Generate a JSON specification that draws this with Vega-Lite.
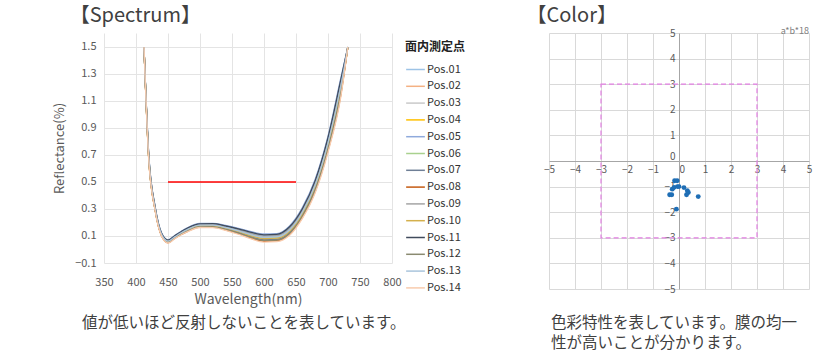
{
  "$schema": "https://vega.github.io/schema/vega-lite/v6.json",
  "padding": {"left": 53, "top": 6, "right": 0, "bottom": 0},
  "background": "white",
  "config": {"font": "Noto Sans CJK JP", "view": {"stroke": null}},
  "spacing": 102,
  "hconcat": [
    {
      "spacing": 8,
      "vconcat": [
        {
          "width": 288,
          "height": 230,
          "title": {"text": "【Spectrum】", "anchor": "start", "fontSize": 20, "fontWeight": "normal", "color": "#404040", "dx": 16, "offset": 7},
          "data": {"values": [
            {"w":412.5,"p01":1.5,"p02":1.5,"p03":1.5,"p04":1.5,"p05":1.5,"p06":1.5,"p07":1.5,"p08":1.5,"p09":1.5,"p10":1.5,"p11":1.5,"p12":1.5,"p13":1.5,"p14":1.5},
            {"w":420,"p01":0.692,"p02":0.674,"p03":0.686,"p04":0.668,"p05":0.70,"p06":0.68,"p07":0.671,"p08":0.664,"p09":0.689,"p10":0.677,"p11":0.696,"p12":0.668,"p13":0.683,"p14":0.66},
            {"w":430,"p01":0.309,"p02":0.296,"p03":0.305,"p04":0.291,"p05":0.315,"p06":0.30,"p07":0.293,"p08":0.288,"p09":0.307,"p10":0.298,"p11":0.312,"p12":0.291,"p13":0.302,"p14":0.285},
            {"w":440,"p01":0.117,"p02":0.106,"p03":0.114,"p04":0.103,"p05":0.122,"p06":0.11,"p07":0.105,"p08":0.10,"p09":0.115,"p10":0.108,"p11":0.12,"p12":0.103,"p13":0.112,"p14":0.098},
            {"w":450,"p01":0.067,"p02":0.056,"p03":0.064,"p04":0.053,"p05":0.072,"p06":0.06,"p07":0.055,"p08":0.05,"p09":0.065,"p10":0.058,"p11":0.07,"p12":0.053,"p13":0.062,"p14":0.048},
            {"w":460,"p01":0.097,"p02":0.086,"p03":0.094,"p04":0.083,"p05":0.102,"p06":0.09,"p07":0.085,"p08":0.08,"p09":0.095,"p10":0.088,"p11":0.10,"p12":0.083,"p13":0.092,"p14":0.078},
            {"w":470,"p01":0.128,"p02":0.116,"p03":0.124,"p04":0.112,"p05":0.133,"p06":0.12,"p07":0.114,"p08":0.11,"p09":0.126,"p10":0.118,"p11":0.13,"p12":0.112,"p13":0.122,"p14":0.107},
            {"w":480,"p01":0.154,"p02":0.141,"p03":0.15,"p04":0.136,"p05":0.16,"p06":0.145,"p07":0.138,"p08":0.133,"p09":0.152,"p10":0.143,"p11":0.157,"p12":0.136,"p13":0.147,"p14":0.13},
            {"w":500,"p01":0.187,"p02":0.174,"p03":0.183,"p04":0.169,"p05":0.193,"p06":0.178,"p07":0.171,"p08":0.166,"p09":0.185,"p10":0.176,"p11":0.19,"p12":0.169,"p13":0.18,"p14":0.163},
            {"w":520,"p01":0.188,"p02":0.173,"p03":0.183,"p04":0.168,"p05":0.194,"p06":0.178,"p07":0.171,"p08":0.165,"p09":0.185,"p10":0.176,"p11":0.191,"p12":0.168,"p13":0.18,"p14":0.162},
            {"w":540,"p01":0.171,"p02":0.155,"p03":0.165,"p04":0.149,"p05":0.178,"p06":0.16,"p07":0.152,"p08":0.146,"p09":0.168,"p10":0.157,"p11":0.174,"p12":0.149,"p13":0.163,"p14":0.142},
            {"w":560,"p01":0.148,"p02":0.128,"p03":0.142,"p04":0.122,"p05":0.157,"p06":0.135,"p07":0.125,"p08":0.117,"p09":0.145,"p10":0.132,"p11":0.153,"p12":0.122,"p13":0.138,"p14":0.113},
            {"w":580,"p01":0.121,"p02":0.097,"p03":0.113,"p04":0.089,"p05":0.132,"p06":0.105,"p07":0.093,"p08":0.083,"p09":0.117,"p10":0.101,"p11":0.127,"p12":0.089,"p13":0.109,"p14":0.078},
            {"w":600,"p01":0.103,"p02":0.076,"p03":0.094,"p04":0.067,"p05":0.115,"p06":0.085,"p07":0.072,"p08":0.061,"p09":0.099,"p10":0.081,"p11":0.109,"p12":0.067,"p13":0.09,"p14":0.055},
            {"w":620,"p01":0.106,"p02":0.079,"p03":0.097,"p04":0.07,"p05":0.118,"p06":0.088,"p07":0.075,"p08":0.064,"p09":0.102,"p10":0.084,"p11":0.112,"p12":0.07,"p13":0.093,"p14":0.058},
            {"w":640,"p01":0.161,"p02":0.13,"p03":0.151,"p04":0.119,"p05":0.175,"p06":0.14,"p07":0.124,"p08":0.112,"p09":0.156,"p10":0.135,"p11":0.168,"p12":0.119,"p13":0.145,"p14":0.105},
            {"w":660,"p01":0.294,"p02":0.258,"p03":0.282,"p04":0.246,"p05":0.31,"p06":0.27,"p07":0.252,"p08":0.238,"p09":0.288,"p10":0.264,"p11":0.302,"p12":0.246,"p13":0.276,"p14":0.23},
            {"w":680,"p01":0.50,"p02":0.455,"p03":0.485,"p04":0.44,"p05":0.52,"p06":0.47,"p07":0.448,"p08":0.43,"p09":0.493,"p10":0.463,"p11":0.51,"p12":0.44,"p13":0.478,"p14":0.42},
            {"w":700,"p01":0.816,"p02":0.762,"p03":0.798,"p04":0.744,"p05":0.84,"p06":0.78,"p07":0.753,"p08":0.732,"p09":0.807,"p10":0.771,"p11":0.828,"p12":0.744,"p13":0.789,"p14":0.72},
            {"w":720,"p01":1.242,"p02":1.179,"p03":1.221,"p04":1.158,"p05":1.27,"p06":1.2,"p07":1.169,"p08":1.144,"p09":1.232,"p10":1.19,"p11":1.256,"p12":1.158,"p13":1.211,"p14":1.13},
            {"w":731,"p01":1.5,"p02":1.5,"p03":1.5,"p04":1.5,"p05":1.5,"p06":1.5,"p07":1.5,"p08":1.5,"p09":1.5,"p10":1.5,"p11":1.5,"p12":1.5,"p13":1.5,"p14":1.5}
          ]},
          "layer": [
            {
              "transform": [{"fold": ["p01","p02","p03","p04","p05","p06","p07","p08","p09","p10","p11","p12","p13","p14"], "as": ["series", "value"]}],
              "mark": {"type": "line", "interpolate": "monotone", "strokeWidth": 1.3},
              "encoding": {
                "x": {"field": "w", "type": "quantitative", "scale": {"domain": [350, 800], "nice": false},
                  "axis": {"values": [350,400,450,500,550,600,650,700,750,800], "tickCount": 30, "labelOverlap": false, "labelFlush": false, "title": "Wavelength(nm)", "titleFontSize": 14, "titleFontWeight": "normal", "titleColor": "#595959", "labelColor": "#595959", "labelFontSize": 11, "grid": true, "gridColor": "#E4E4E4", "domain": false, "ticks": false, "labelPadding": 13, "titlePadding": 5}},
                "y": {"field": "value", "type": "quantitative", "scale": {"domain": [-0.1, 1.6037], "nice": false, "zero": false},
                  "axis": {"values": [-0.1,0.1,0.3,0.5,0.7,0.9,1.1,1.3,1.5], "tickCount": 30, "labelOverlap": false, "labelFlush": false, "format": ".1f", "title": "Reflectance(%)", "titleFontSize": 13, "titleFontWeight": "normal", "titleColor": "#595959", "labelColor": "#595959", "labelFontSize": 11, "grid": true, "gridColor": "#E4E4E4", "domain": false, "ticks": false, "labelPadding": 8, "titlePadding": 8}},
                "color": {"field": "series", "type": "nominal",
                  "scale": {"domain": ["p01","p02","p03","p04","p05","p06","p07","p08","p09","p10","p11","p12","p13","p14"],
                    "range": ["#9DC3E6","#F4B183","#C9C9C9","#FFC000","#8FAADC","#A9D18E","#6F7F96","#C55A11","#A5A5A5","#D4B04C","#404B5C","#8A8A70","#A9C4DC","#F8CBAD"]},
                  "legend": {"title": "面内測定点", "orient": "none", "legendX": 301, "legendY": 9, "titleFontSize": 12, "titleFontWeight": "bold", "titleColor": "#222222", "labelFontSize": 11, "labelColor": "#333333", "symbolType": "stroke", "symbolSize": 350, "symbolStrokeWidth": 1.5, "rowPadding": 0.8, "titlePadding": 5, "labelOffset": 1, "labelExpr": "'Pos.' + slice(datum.label, 1)"}}
              }
            },
            {
              "data": {"values": [{"w1": 450, "w2": 650, "r": 0.5}]},
              "mark": {"type": "rule", "color": "#FF0000", "strokeWidth": 1.5},
              "encoding": {
                "x": {"field": "w1", "type": "quantitative"},
                "x2": {"field": "w2"},
                "y": {"field": "r", "type": "quantitative"}
              }
            }
          ]
        },
        {
          "width": 320,
          "height": 18,
          "data": {"values": [{"t": "値が低いほど反射しないことを表しています。"}]},
          "mark": {"type": "text", "align": "left", "baseline": "middle", "fontSize": 15.5, "color": "#404040"},
          "encoding": {"text": {"field": "t"}, "x": {"value": -22}, "y": {"value": 9}}
        }
      ]
    },
    {
      "spacing": 22,
      "vconcat": [
        {
          "width": 260,
          "height": 256,
          "title": {"text": "【Color】", "anchor": "start", "fontSize": 20, "fontWeight": "normal", "color": "#404040", "dx": -17, "offset": 1},
          "layer": [
            {
              "data": {"values": [{"a": -3, "a2": 3, "b": -3, "b2": 3}]},
              "mark": {"type": "rect", "filled": false, "color": "#E27FE2", "strokeDash": [5, 3], "strokeWidth": 1.2},
              "encoding": {
                "x": {"field": "a", "type": "quantitative", "scale": {"domain": [-5, 5], "nice": false},
                  "axis": {"values": [-5,-4,-3,-2,-1,0,1,2,3,4,5], "format": "d", "tickCount": 30, "labelOverlap": false, "labelFlush": false, "offset": -128, "title": null, "grid": true, "gridColor": "#D9D9D9", "domainColor": "#A6A6A6", "ticks": false, "labelColor": "#595959", "labelFontSize": 10, "labelPadding": 3,
                    "labelAlign": {"condition": {"test": "datum.value == 0", "value": "left"}, "value": "center"}}},
                "x2": {"field": "a2"},
                "y": {"field": "b", "type": "quantitative", "scale": {"domain": [-5, 5], "nice": false},
                  "axis": {"values": [-5,-4,-3,-2,-1,0,1,2,3,4,5], "format": "d", "tickCount": 30, "labelOverlap": false, "labelFlush": false, "offset": -130, "title": null, "grid": true, "gridColor": "#D9D9D9", "domainColor": "#A6A6A6", "ticks": false, "labelColor": "#595959", "labelFontSize": 10, "labelPadding": 4,
                    "labelBaseline": {"condition": {"test": "datum.value == 0", "value": "bottom"}, "value": "middle"}}},
                "y2": {"field": "b2"}
              }
            },
            {
              "data": {"values": [
                {"a": -0.17, "b": -0.77}, {"a": -0.07, "b": -0.77},
                {"a": -0.26, "b": -1.10}, {"a": -0.19, "b": -1.03},
                {"a": -0.06, "b": -1.00}, {"a": 0.0, "b": -1.00},
                {"a": 0.19, "b": -1.04}, {"a": 0.32, "b": -1.16},
                {"a": 0.36, "b": -1.23}, {"a": 0.29, "b": -1.32},
                {"a": 0.74, "b": -1.39}, {"a": -0.36, "b": -1.32},
                {"a": -0.28, "b": -1.32}, {"a": -0.10, "b": -1.88}
              ]},
              "mark": {"type": "circle", "size": 24, "color": "#1F6EB5", "opacity": 1},
              "encoding": {
                "x": {"field": "a", "type": "quantitative"},
                "y": {"field": "b", "type": "quantitative"}
              }
            },
            {
              "data": {"values": [{"a": 5, "b": 5, "t": "a*b*18"}]},
              "mark": {"type": "text", "align": "right", "baseline": "alphabetic", "fontSize": 9, "color": "#808080", "dy": 1},
              "encoding": {
                "x": {"field": "a", "type": "quantitative"},
                "y": {"field": "b", "type": "quantitative"},
                "text": {"field": "t"}
              }
            }
          ]
        },
        {
          "width": 270,
          "height": 40,
          "data": {"values": [{"t": "色彩特性を表しています。膜の均一\n性が高いことが分かります。"}]},
          "mark": {"type": "text", "align": "left", "baseline": "top", "fontSize": 15.5, "lineHeight": 20, "lineBreak": "\n", "color": "#404040"},
          "encoding": {"text": {"field": "t"}, "x": {"value": 2}, "y": {"value": 0}}
        }
      ]
    }
  ]
}
